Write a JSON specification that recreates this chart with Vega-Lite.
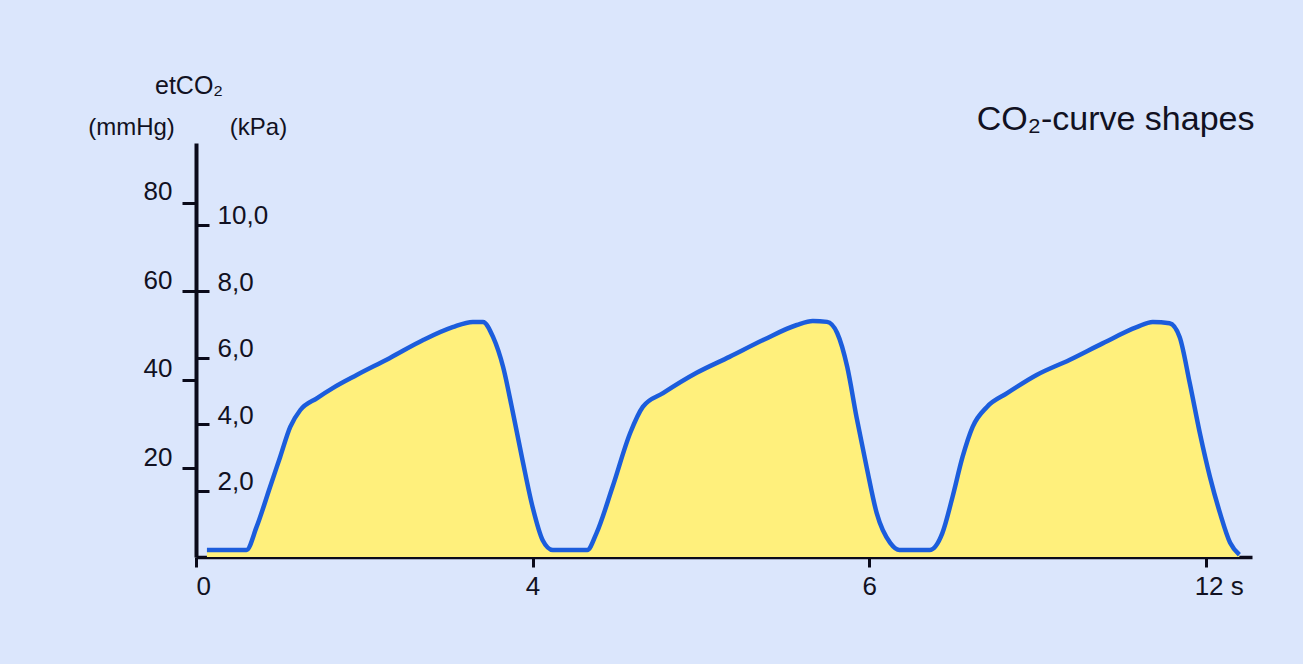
{
  "$schema": "https://vega.github.io/schema/vega-lite/v6.json",
  "autosize": "none",
  "width": 1056,
  "height": 414,
  "padding": {"left": 196, "top": 143, "right": 51, "bottom": 107},
  "background": "#dbe6fc",
  "config": {
    "view": {"stroke": null},
    "font": "Liberation Sans",
    "axis": {"labelFont": "Liberation Sans", "titleFont": "Liberation Sans", "labelColor": "#111122", "titleColor": "#111122", "domainColor": "#0a0a1a", "tickColor": "#0a0a1a", "grid": false, "titleFontWeight": "normal"}
  },
  "title": {"text": "etCO₂", "anchor": "start", "frame": "group", "dx": -41, "fontSize": 25, "fontWeight": "normal", "color": "#111122", "offset": -22, "baseline": "bottom"},
  "data": {"values": [
    {"t": 0.13, "co2": 1.6}, {"t": 0.6, "co2": 1.6}, {"t": 0.72, "co2": 6.8}, {"t": 0.88, "co2": 15.8},
    {"t": 1.0, "co2": 22.6}, {"t": 1.12, "co2": 29.4}, {"t": 1.24, "co2": 33.2}, {"t": 1.44, "co2": 35.9},
    {"t": 1.63, "co2": 38.2}, {"t": 1.91, "co2": 41.1}, {"t": 2.3, "co2": 44.9}, {"t": 2.7, "co2": 49.0},
    {"t": 3.05, "co2": 51.9}, {"t": 3.29, "co2": 53.1}, {"t": 3.41, "co2": 53.1}, {"t": 3.53, "co2": 49.7},
    {"t": 3.65, "co2": 42.9}, {"t": 3.76, "co2": 33.2}, {"t": 3.88, "co2": 21.9}, {"t": 4.0, "co2": 11.3},
    {"t": 4.12, "co2": 3.8}, {"t": 4.24, "co2": 1.6}, {"t": 4.65, "co2": 1.6}, {"t": 4.76, "co2": 5.4},
    {"t": 4.95, "co2": 15.8}, {"t": 5.16, "co2": 28.0}, {"t": 5.31, "co2": 33.9},
    {"t": 5.55, "co2": 37.0}, {"t": 5.95, "co2": 41.6}, {"t": 6.34, "co2": 45.2}, {"t": 6.74, "co2": 49.0},
    {"t": 7.14, "co2": 52.4}, {"t": 7.33, "co2": 53.3}, {"t": 7.5, "co2": 53.1}, {"t": 7.62, "co2": 50.6},
    {"t": 7.74, "co2": 42.9}, {"t": 7.85, "co2": 31.6}, {"t": 7.97, "co2": 20.3}, {"t": 8.09, "co2": 9.9},
    {"t": 8.25, "co2": 3.2}, {"t": 8.36, "co2": 1.6}, {"t": 8.72, "co2": 1.6}, {"t": 8.87, "co2": 5.4},
    {"t": 8.99, "co2": 13.5}, {"t": 9.11, "co2": 22.6}, {"t": 9.23, "co2": 29.4}, {"t": 9.4, "co2": 33.9},
    {"t": 9.64, "co2": 37.0}, {"t": 9.99, "co2": 41.1}, {"t": 10.38, "co2": 44.5}, {"t": 10.78, "co2": 48.3},
    {"t": 11.18, "co2": 51.9}, {"t": 11.37, "co2": 53.1}, {"t": 11.57, "co2": 52.8}, {"t": 11.69, "co2": 49.7},
    {"t": 11.81, "co2": 39.3}, {"t": 11.93, "co2": 28.0}, {"t": 12.05, "co2": 18.1}, {"t": 12.17, "co2": 9.9},
    {"t": 12.29, "co2": 3.2}, {"t": 12.4, "co2": 0.5}
  ]},
  "layer": [
    {
      "mark": {"type": "area", "color": "#fff07c", "interpolate": "monotone"},
      "encoding": {
        "x": {"field": "t", "type": "quantitative", "scale": {"domain": [0, 12.55], "nice": false, "zero": false},
          "axis": {"orient": "bottom", "values": [0, 4, 8, 12], "title": null, "domainWidth": 3.5, "tickWidth": 3, "tickSize": 10,
            "labelFontSize": 26, "labelPadding": 6,
            "labelExpr": "datum.value == 8 ? '6' : datum.value == 12 ? '12 s' : datum.label",
            "labelOffset": {"condition": {"test": "datum.value == 12", "value": 13}, "value": 0}}},
        "y": {"field": "co2", "type": "quantitative", "scale": {"domain": [0, 93.5], "nice": false},
          "axis": {"orient": "left", "values": [20, 40, 60, 80], "domainWidth": 4, "tickWidth": 3, "tickSize": 14,
            "labelFontSize": 26, "labelPadding": 10, "labelOffset": -11,
            "title": "(mmHg)", "titleAngle": 0, "titleX": -65, "titleY": -16, "titleAlign": "center", "titleBaseline": "middle", "titleFontSize": 24}}
      }
    },
    {
      "mark": {"type": "line", "color": "#1c5ddc", "strokeWidth": 4.5, "interpolate": "monotone"},
      "encoding": {
        "x": {"field": "t", "type": "quantitative",
          "axis": {"orient": "top", "labels": false, "ticks": false, "domain": false,
            "title": "CO₂-curve shapes", "titleX": 1058, "titleY": -24, "titleAlign": "right", "titleBaseline": "middle", "titleFontSize": 34}},
        "y": {"field": "co2", "type": "quantitative",
          "axis": {"orient": "right", "offset": -1056, "domain": false, "values": [15, 30, 45, 60, 75], "tickWidth": 3, "tickSize": 13,
            "labelFontSize": 26, "labelPadding": 8, "labelOffset": -9,
            "labelExpr": "replace(format(datum.value / 7.5, '.1f'), '.', ',')",
            "title": "(kPa)", "titleAngle": 0, "titleX": 62, "titleY": -16, "titleAlign": "center", "titleBaseline": "middle", "titleFontSize": 24}}
      }
    }
  ],
  "resolve": {"axis": {"x": "independent", "y": "independent"}}
}
